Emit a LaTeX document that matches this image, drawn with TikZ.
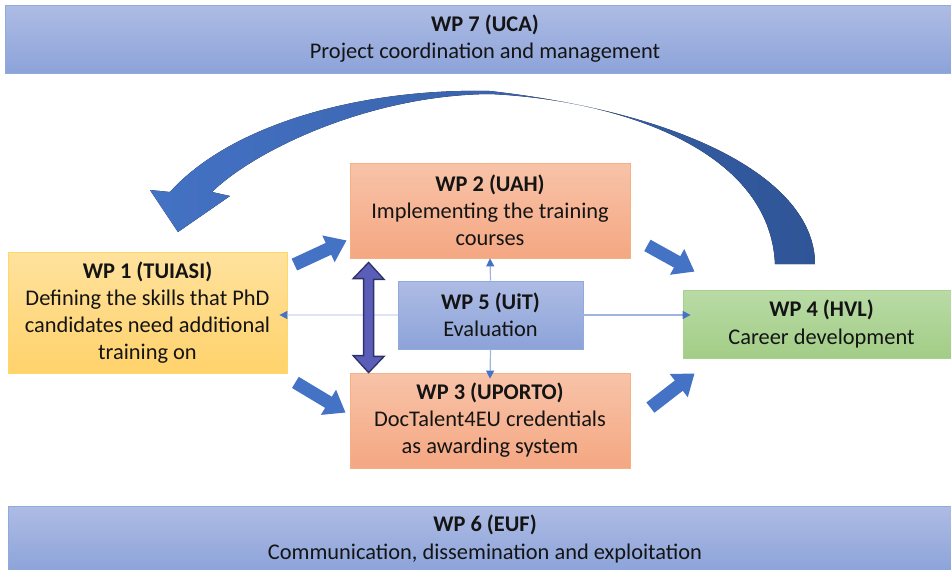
\documentclass[tikz,border=0pt]{standalone}
\usepackage{fontspec}
\setmainfont{Carlito}
\usepackage{tikz}
\usetikzlibrary{positioning}
\usetikzlibrary{calc}
\usetikzlibrary{arrows.meta}

\definecolor{wpblueA}{HTML}{AEBCE4}
\definecolor{wpblueB}{HTML}{8CA3D9}
\definecolor{wpblueL}{HTML}{8FAADC}
\definecolor{wporA}{HTML}{F8C3A8}
\definecolor{wporB}{HTML}{F4A782}
\definecolor{wporL}{HTML}{F4B183}
\definecolor{wpyelA}{HTML}{FFE29E}
\definecolor{wpyelB}{HTML}{FFD26B}
\definecolor{wpyelL}{HTML}{FFD966}
\definecolor{wpgrnA}{HTML}{B9DBA6}
\definecolor{wpgrnB}{HTML}{A2CD86}
\definecolor{wpgrnL}{HTML}{A9D18E}
\definecolor{flowblue}{HTML}{4472C4}
\definecolor{flowdark}{HTML}{2F5597}
\definecolor{linkblue}{HTML}{9DB5E0}
\definecolor{dblfill}{HTML}{5A5EB8}
\definecolor{dbledge}{HTML}{2E3267}

\begin{document}
\begin{tikzpicture}[x=0.75pt,y=-0.75pt,
    wp/.style={rectangle, align=center, inner sep=0pt, line width=0.6pt,
        font=\fontsize{16.8}{20.3}\selectfont, text=black!92},
    bluebox/.style={wp, top color=wpblueA, bottom color=wpblueB, draw=wpblueL},
    orangebox/.style={wp, top color=wporA, bottom color=wporB, draw=wporL},
    yellowbox/.style={wp, top color=wpyelA, bottom color=wpyelB, draw=wpyelL},
    greenbox/.style={wp, top color=wpgrnA, bottom color=wpgrnB, draw=wpgrnL},
    blockarrow/.style={draw=flowblue, line width=9.75pt,
        -{Triangle[length=15pt,width=21pt]}},
    linkarrow/.style={draw=linkblue, line width=0.9pt,
        -{Triangle[length=6pt,width=6pt,color=flowblue]}},
    dblarrow/.style={fill=dblfill, draw=dbledge, line width=1pt, line join=miter}]

    \useasboundingbox (0,0) rectangle (951,569);
    \clip (0,0) rectangle (951,569);

    \node[bluebox, minimum width=960*0.75pt, minimum height=68*0.75pt] (wp7) at (485,39)
        {\textbf{WP 7 (UCA)}\\Project coordination and management};
    \node[bluebox, minimum width=954*0.75pt, minimum height=66*0.75pt] (wp6) at (485,539)
        {\textbf{WP 6 (EUF)}\\Communication, dissemination and exploitation};

    \node[yellowbox, minimum width=279*0.75pt, minimum height=121*0.75pt] (wp1) at (147.5,312.5)
        {\textbf{WP 1 (TUIASI)}\\Defining the skills that PhD\\candidates need additional\\training on};
    \node[orangebox, minimum width=280*0.75pt, minimum height=95*0.75pt] (wp2) at (490,210.5)
        {\textbf{WP 2 (UAH)}\\Implementing the training\\courses};
    \node[orangebox, minimum width=280*0.75pt, minimum height=95*0.75pt] (wp3) at (490,420.5)
        {\textbf{WP 3 (UPORTO)}\\DocTalent4EU credentials\\as awarding system};
    \node[bluebox, minimum width=185*0.75pt, minimum height=68*0.75pt] (wp5) at (490.5,315)
        {\textbf{WP 5 (UiT)}\\Evaluation};
    \node[greenbox, minimum width=277*0.75pt, minimum height=68*0.75pt] (wp4) at (821.5,324)
        {\textbf{WP 4 (HVL)}\\Career development};

    % links out of the evaluation package
    \draw[linkarrow] (wp5.north) -- (wp2.south);
    \draw[linkarrow] (wp5.south) -- ([shift={(0,6)}]wp3.north);
    \draw[linkarrow, draw=linkblue!35] (wp5.west) -- ([shift={(-8,0)}]wp5.west -| wp1.east);
    \draw[linkarrow] (wp5.east) -- ([shift={(8,0)}]wp5.east -| wp4.west);

    % main flow
    \draw[blockarrow] ([shift={(7,13)}]wp1.north east) -- ([shift={(-3,-18)}]wp2.south west);
    \draw[blockarrow] ([shift={(8,9)}]wp1.south east) -- ([shift={(-4,40)}]wp3.north west);
    \draw[blockarrow] ([shift={(17,-13)}]wp2.south east) -- ([shift={(12,-18)}]wp4.north west);
    \draw[blockarrow] ([shift={(20,35)}]wp3.north east) -- ([shift={(12,15)}]wp4.south west);

    \coordinate (dtop) at ([shift={(19,4)}]wp2.south west);
    \coordinate (dbot) at ([shift={(19,0)}]wp3.north west);
    \filldraw[dblarrow] (dtop) -- ++(15.5,17) -- ++(-10.5,0) -- ++(0,77) -- ++(10.5,0)
        -- (dbot) -- ++(-15.5,-17) -- ++(10.5,0) -- ++(0,-77) -- ++(-10.5,0) -- cycle;

    % feedback loop back to WP 1
    \fill[left color=flowblue, right color=flowdark]
        (815,264) .. controls (815,185) and (700,115) .. (490,91)
        .. controls (360,88) and (230,125) .. (170,192)
        -- (150,190) -- (178,232) -- (230,196) -- (212,192)
        .. controls (255,150) and (370,95) .. (490,94)
        .. controls (620,100) and (770,150) .. (775,264) -- cycle;

\end{tikzpicture}
\end{document}
